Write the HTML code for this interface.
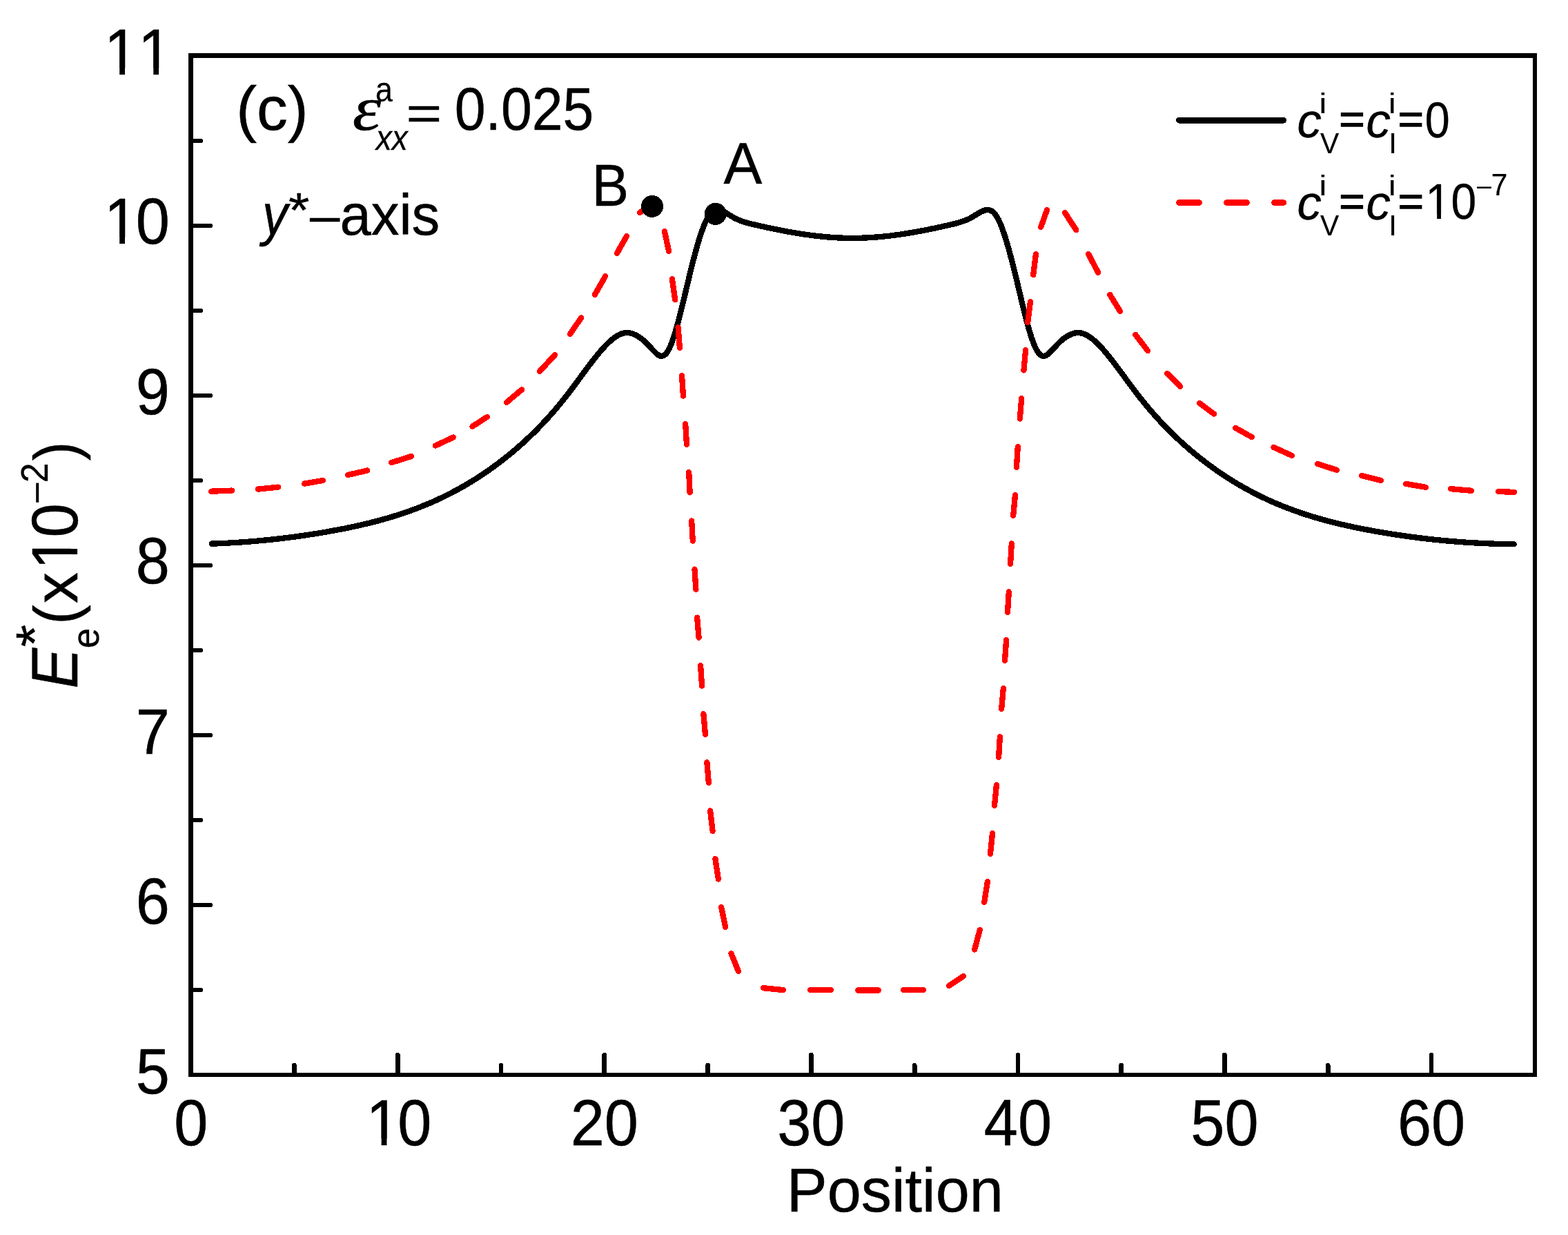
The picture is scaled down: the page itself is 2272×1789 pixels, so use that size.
<!DOCTYPE html>
<html lang="en"><head><meta charset="utf-8"><title>Elastic energy profile along the y*-axis</title>
<style>
html,body{margin:0;padding:0;background:#fff;}
body{width:2272px;height:1789px;overflow:hidden;}
svg{display:block;}
text{font-family:"Liberation Sans",sans-serif;font-size:100px;fill:#000;stroke:#000;stroke-width:0.55px;stroke-linejoin:round;font-kerning:none;font-variant-ligatures:none;}
.it{font-style:italic;}
.se{font-family:"Liberation Serif",serif;}
.eq{stroke-width:2.4px;stroke-linejoin:miter;}
</style></head><body>
<svg width="2272" height="1789" viewBox="0 0 2272 1789">
<defs><clipPath id="k0"><rect x="-10" y="-95" width="135.62" height="85.2"/><rect x="28.89" y="-9.9" width="8.83" height="10.4"/><rect x="55.62" y="-9.9" width="55.6" height="40"/></clipPath><clipPath id="k1"><rect x="-10" y="-95" width="139.36" height="85.2"/><rect x="28.89" y="-9.9" width="8.83" height="10.4"/><rect x="84.50" y="-9.9" width="8.83" height="10.4"/></clipPath><clipPath id="k2"><rect x="-10" y="-95" width="135.62" height="85.2"/><rect x="28.89" y="-9.9" width="8.83" height="10.4"/><rect x="55.62" y="-9.9" width="55.6" height="40"/></clipPath><clipPath id="k3"><rect x="-10" y="-95" width="132.90" height="85.2"/><rect x="25.15" y="-9.9" width="8.83" height="10.4"/><rect x="52.90" y="-9.9" width="55.6" height="40"/></clipPath><clipPath id="k4"><rect x="-10" y="-95" width="136.00" height="85.2"/><rect x="25.15" y="-9.9" width="8.83" height="10.4"/><rect x="56.00" y="-9.9" width="55.6" height="40"/></clipPath></defs>
<rect x="0" y="0" width="2272" height="1789" fill="#fff"/>
<g fill="#000" shape-rendering="crispEdges">
<rect x="273" y="77" width="7" height="1483"/>
<rect x="273" y="77" width="1954" height="7"/>
<rect x="2221" y="77" width="6" height="1483"/>
<rect x="273" y="1554" width="1954" height="6"/>
</g>
<g stroke="#000" stroke-width="6.4" stroke-linecap="round" fill="none" shape-rendering="crispEdges">
<line x1="278" y1="1433.98" x2="290.80" y2="1433.98"/>
<line x1="278" y1="1310.97" x2="304.80" y2="1310.97"/>
<line x1="278" y1="1187.95" x2="290.80" y2="1187.95"/>
<line x1="278" y1="1064.94" x2="304.80" y2="1064.94"/>
<line x1="278" y1="941.92" x2="290.80" y2="941.92"/>
<line x1="278" y1="818.91" x2="304.80" y2="818.91"/>
<line x1="278" y1="695.89" x2="290.80" y2="695.89"/>
<line x1="278" y1="572.88" x2="304.80" y2="572.88"/>
<line x1="278" y1="449.87" x2="290.80" y2="449.87"/>
<line x1="278" y1="326.85" x2="304.80" y2="326.85"/>
<line x1="278" y1="203.84" x2="290.80" y2="203.84"/>
</g><g stroke="#000" stroke-width="6.8" stroke-linecap="round" fill="none" shape-rendering="crispEdges">
<line x1="426.47" y1="1556" x2="426.47" y2="1543.30"/>
<line x1="576.25" y1="1556" x2="576.25" y2="1528.30"/>
<line x1="726.02" y1="1556" x2="726.02" y2="1543.30"/>
<line x1="875.80" y1="1556" x2="875.80" y2="1528.30"/>
<line x1="1025.58" y1="1556" x2="1025.58" y2="1543.30"/>
<line x1="1175.35" y1="1556" x2="1175.35" y2="1528.30"/>
<line x1="1325.12" y1="1556" x2="1325.12" y2="1543.30"/>
<line x1="1474.90" y1="1556" x2="1474.90" y2="1528.30"/>
<line x1="1624.67" y1="1556" x2="1624.67" y2="1543.30"/>
<line x1="1774.45" y1="1556" x2="1774.45" y2="1528.30"/>
<line x1="1924.22" y1="1556" x2="1924.22" y2="1543.30"/>
<line x1="2074.00" y1="1556" x2="2074.00" y2="1528.30"/>
</g>
<text x="0.00" y="0" transform="translate(196.79 1583.80) scale(0.8830 0.9288)">5</text>
<text x="0.00" y="0" transform="translate(196.79 1337.57) scale(0.8830 0.9448)">6</text>
<text x="0.00" y="0" transform="translate(196.79 1091.84) scale(0.8830 0.9288)">7</text>
<text x="0.00" y="0" transform="translate(196.79 845.31) scale(0.8830 0.9448)">8</text>
<text x="0.00" y="0" transform="translate(196.79 600.28) scale(0.8830 0.9448)">9</text>
<text clip-path="url(#k0)" x="3.74 55.62" y="0" transform="translate(147.68 352.85) scale(0.8830 0.9448)">10</text>
<text clip-path="url(#k1)" x="3.74 59.36" y="0" transform="translate(147.68 108.02) scale(0.8830 0.9448)">11</text>
<text x="0.00" y="0" transform="translate(252.15 1658.80) scale(0.8830 0.9448)">0</text>
<text clip-path="url(#k2)" x="3.74 55.62" y="0" transform="translate(527.14 1658.80) scale(0.8830 0.9448)">10</text>
<text x="0.00 55.62" y="0" transform="translate(826.69 1658.80) scale(0.8830 0.9448)">20</text>
<text x="0.00 55.62" y="0" transform="translate(1126.24 1658.80) scale(0.8830 0.9448)">30</text>
<text x="0.00 55.62" y="0" transform="translate(1425.79 1658.80) scale(0.8830 0.9448)">40</text>
<text x="0.00 55.62" y="0" transform="translate(1725.34 1658.80) scale(0.8830 0.9448)">50</text>
<text x="0.00 55.62" y="0" transform="translate(2024.89 1658.80) scale(0.8830 0.9448)">60</text>
<text transform="translate(1139.76 1755.03) scale(0.8831 0.8946)">Position</text>
<g transform="translate(112 1000) rotate(-90)">
<text class="it" transform="translate(2.49 0.00) scale(0.8799 0.9448)">E</text>
<text transform="translate(62.85 -36.18) scale(0.8365 0.7662)">*</text>
<text transform="translate(60.85 30.56) scale(0.5306 0.5494)">e</text>
<text transform="translate(95.54 -0.37) scale(0.8486 0.8920)">(</text>
<text transform="translate(126.09 0.00) scale(0.9016 0.8915)">x</text>
<text clip-path="url(#k3)" x="0.00 52.90" y="0" transform="translate(174.90 0.00) scale(0.8830 0.9448)">10</text>
<text transform="translate(269.27 -39.78) scale(0.5743 0.5330)">−</text>
<text transform="translate(300.69 -43.10) scale(0.5180 0.5585)">2</text>
<text transform="translate(332.72 -0.37) scale(0.8184 0.8920)">)</text>
</g>
<text transform="translate(342.14 188.38) scale(0.8964 0.8898)">(c)</text>
<text class="se it" transform="translate(510.75 188.02) scale(1.0496 0.9003)">ε</text>
<text transform="translate(544.10 146.52) scale(0.4478 0.4910)">a</text>
<text class="it" transform="translate(544.84 217.20) scale(0.4592 0.4959)">xx</text>
<text transform="translate(588.57 188.16) scale(0.8871 0.6765)">=</text>
<text transform="translate(658.75 188.35) scale(0.8057 0.8658)">0.025</text>
<text class="it" transform="translate(380.10 339.87) scale(0.7414 0.8303)">y</text>
<text transform="translate(417.94 328.90) scale(0.7806 0.7093)">*</text>
<text transform="translate(448.90 337.03) scale(0.7774 0.7325)">–</text>
<text transform="translate(492.54 340.49) scale(0.8137 0.8334)">axis</text>
<text transform="translate(1048.44 266.30) scale(0.8370 0.8605)">A</text>
<text transform="translate(857.40 297.50) scale(0.8042 0.8605)">B</text>
<g shape-rendering="crispEdges">
<path d="M306.7 787.6 L308.2 787.6 L309.7 787.5 L311.2 787.5 L312.7 787.4 L314.2 787.4 L315.7 787.3 L317.2 787.2 L318.7 787.2 L320.2 787.1 L321.7 787.0 L323.2 787.0 L324.7 786.9 L326.2 786.8 L327.7 786.7 L329.2 786.7 L330.7 786.6 L332.2 786.5 L333.7 786.4 L335.2 786.3 L336.7 786.2 L338.2 786.1 L339.7 786.1 L341.2 786.0 L342.7 785.9 L344.2 785.8 L345.7 785.7 L347.2 785.6 L348.7 785.5 L350.2 785.4 L351.7 785.3 L353.2 785.2 L354.7 785.0 L356.2 784.9 L357.7 784.8 L359.2 784.7 L360.7 784.6 L362.2 784.5 L363.7 784.3 L365.2 784.2 L366.7 784.1 L368.2 784.0 L369.7 783.8 L371.2 783.7 L372.7 783.6 L374.2 783.4 L375.7 783.3 L377.2 783.2 L378.7 783.0 L380.2 782.9 L381.7 782.7 L383.2 782.6 L384.7 782.5 L386.2 782.3 L387.7 782.2 L389.2 782.0 L390.7 781.8 L392.2 781.7 L393.7 781.5 L395.2 781.4 L396.7 781.2 L398.2 781.0 L399.7 780.9 L401.2 780.7 L402.7 780.5 L404.2 780.4 L405.7 780.2 L407.2 780.0 L408.7 779.8 L410.2 779.7 L411.7 779.5 L413.2 779.3 L414.7 779.1 L416.2 778.9 L417.7 778.7 L419.2 778.5 L420.7 778.4 L422.2 778.2 L423.7 778.0 L425.2 777.8 L426.7 777.6 L428.2 777.4 L429.7 777.2 L431.2 776.9 L432.7 776.7 L434.2 776.5 L435.7 776.3 L437.2 776.1 L438.7 775.9 L440.2 775.7 L441.7 775.5 L443.2 775.2 L444.7 775.0 L446.2 774.8 L447.7 774.6 L449.2 774.3 L450.7 774.1 L452.2 773.9 L453.7 773.6 L455.2 773.4 L456.7 773.1 L458.2 772.9 L459.7 772.7 L461.2 772.4 L462.7 772.2 L464.2 771.9 L465.7 771.7 L467.2 771.4 L468.7 771.2 L470.2 770.9 L471.7 770.7 L473.2 770.4 L474.7 770.1 L476.2 769.9 L477.7 769.6 L479.2 769.3 L480.7 769.1 L482.2 768.8 L483.7 768.5 L485.2 768.2 L486.7 768.0 L488.2 767.7 L489.7 767.4 L491.2 767.1 L492.7 766.8 L494.2 766.5 L495.7 766.3 L497.2 766.0 L498.7 765.7 L500.2 765.4 L501.7 765.1 L503.2 764.8 L504.7 764.5 L506.2 764.1 L507.7 763.8 L509.2 763.5 L510.7 763.2 L512.2 762.9 L513.7 762.6 L515.2 762.2 L516.7 761.9 L518.2 761.6 L519.7 761.2 L521.2 760.9 L522.7 760.6 L524.2 760.2 L525.7 759.9 L527.2 759.5 L528.7 759.2 L530.2 758.8 L531.7 758.5 L533.2 758.1 L534.7 757.7 L536.2 757.4 L537.7 757.0 L539.2 756.6 L540.7 756.2 L542.2 755.8 L543.7 755.5 L545.2 755.1 L546.7 754.7 L548.2 754.3 L549.7 753.9 L551.2 753.5 L552.7 753.1 L554.2 752.6 L555.7 752.2 L557.2 751.8 L558.7 751.4 L560.2 750.9 L561.7 750.5 L563.2 750.1 L564.7 749.6 L566.2 749.2 L567.7 748.7 L569.2 748.3 L570.7 747.8 L572.2 747.3 L573.7 746.9 L575.2 746.4 L576.7 745.9 L578.2 745.4 L579.7 745.0 L581.2 744.5 L582.7 744.0 L584.2 743.5 L585.7 743.0 L587.2 742.4 L588.7 741.9 L590.2 741.4 L591.7 740.9 L593.2 740.3 L594.7 739.8 L596.2 739.3 L597.7 738.7 L599.2 738.2 L600.7 737.6 L602.2 737.0 L603.7 736.5 L605.2 735.9 L606.7 735.3 L608.2 734.7 L609.7 734.1 L611.2 733.5 L612.7 732.9 L614.2 732.3 L615.7 731.7 L617.2 731.1 L618.7 730.5 L620.2 729.8 L621.7 729.2 L623.2 728.6 L624.7 727.9 L626.2 727.3 L627.7 726.6 L629.2 725.9 L630.7 725.3 L632.2 724.6 L633.7 723.9 L635.2 723.2 L636.7 722.5 L638.2 721.8 L639.7 721.1 L641.2 720.4 L642.7 719.6 L644.2 718.9 L645.7 718.2 L647.2 717.4 L648.7 716.7 L650.2 715.9 L651.7 715.2 L653.2 714.4 L654.7 713.6 L656.2 712.8 L657.7 712.0 L659.2 711.3 L660.7 710.4 L662.2 709.6 L663.7 708.8 L665.2 708.0 L666.7 707.2 L668.2 706.3 L669.7 705.5 L671.2 704.6 L672.7 703.8 L674.2 702.9 L675.7 702.0 L677.2 701.1 L678.7 700.2 L680.2 699.3 L681.7 698.4 L683.2 697.5 L684.7 696.6 L686.2 695.7 L687.7 694.7 L689.2 693.8 L690.7 692.8 L692.2 691.9 L693.7 690.9 L695.2 689.9 L696.7 688.9 L698.2 687.9 L699.7 686.9 L701.2 685.9 L702.7 684.9 L704.2 683.9 L705.7 682.9 L707.2 681.8 L708.7 680.8 L710.2 679.7 L711.7 678.6 L713.2 677.6 L714.7 676.5 L716.2 675.4 L717.7 674.3 L719.2 673.2 L720.7 672.1 L722.2 670.9 L723.7 669.8 L725.2 668.6 L726.7 667.5 L728.2 666.3 L729.7 665.2 L731.2 664.0 L732.7 662.8 L734.2 661.6 L735.7 660.4 L737.2 659.2 L738.7 657.9 L740.2 656.7 L741.7 655.5 L743.2 654.2 L744.7 652.9 L746.2 651.7 L747.7 650.4 L749.2 649.1 L750.7 647.8 L752.2 646.5 L753.7 645.2 L755.2 643.8 L756.7 642.5 L758.2 641.1 L759.7 639.8 L761.2 638.4 L762.7 637.0 L764.2 635.6 L765.7 634.2 L767.2 632.8 L768.7 631.3 L770.2 629.9 L771.7 628.4 L773.2 627.0 L774.7 625.5 L776.2 624.0 L777.7 622.5 L779.2 621.0 L780.7 619.4 L782.2 617.9 L783.7 616.3 L785.2 614.8 L786.7 613.2 L788.2 611.6 L789.7 610.0 L791.2 608.4 L792.7 606.7 L794.2 605.1 L795.7 603.4 L797.2 601.7 L798.7 600.1 L800.2 598.4 L801.7 596.6 L803.2 594.9 L804.7 593.2 L806.2 591.4 L807.7 589.6 L809.2 587.8 L810.7 586.0 L812.2 584.2 L813.7 582.4 L815.2 580.5 L816.7 578.6 L818.2 576.7 L819.7 574.8 L821.2 572.9 L822.7 571.0 L824.2 569.0 L825.7 567.1 L827.2 565.1 L828.7 563.1 L830.2 561.1 L831.7 559.1 L833.2 557.1 L834.7 555.0 L836.2 553.0 L837.7 550.9 L839.2 548.9 L840.7 546.9 L842.2 544.8 L843.7 542.8 L845.2 540.7 L846.7 538.7 L848.2 536.7 L849.7 534.6 L851.2 532.6 L852.7 530.6 L854.2 528.6 L855.7 526.7 L857.2 524.7 L858.7 522.8 L860.2 520.9 L861.7 519.0 L863.2 517.1 L864.7 515.2 L866.2 513.4 L867.7 511.6 L869.2 509.8 L870.7 508.1 L872.2 506.4 L873.7 504.7 L875.2 503.0 L876.7 501.4 L878.2 499.8 L879.7 498.3 L881.2 496.8 L882.7 495.4 L884.2 494.1 L885.7 492.7 L887.2 491.5 L888.7 490.3 L890.2 489.2 L891.7 488.1 L893.2 487.1 L894.7 486.2 L896.2 485.4 L897.7 484.7 L899.2 484.0 L900.7 483.4 L902.2 483.0 L903.7 482.6 L905.2 482.3 L906.7 482.1 L908.2 482.0 L909.7 482.1 L911.2 482.2 L912.7 482.5 L914.2 482.8 L915.7 483.2 L917.2 483.7 L918.7 484.3 L920.2 485.0 L921.7 485.7 L923.2 486.5 L924.7 487.4 L926.2 488.3 L927.7 489.4 L929.2 490.5 L930.7 491.6 L932.2 492.9 L933.7 494.2 L935.2 495.7 L936.7 497.1 L938.2 498.7 L939.7 500.2 L941.2 501.8 L942.7 503.5 L944.2 505.1 L945.7 506.7 L947.2 508.3 L948.7 509.8 L950.2 511.3 L951.7 512.6 L953.2 513.8 L954.7 514.7 L956.2 515.4 L957.7 515.8 L959.2 515.8 L960.7 515.4 L962.2 514.7 L963.7 513.6 L965.2 512.1 L966.7 510.1 L968.2 507.7 L969.7 504.9 L971.2 501.7 L972.7 498.1 L974.2 494.1 L975.7 489.8 L977.2 485.2 L978.7 480.3 L980.2 475.2 L981.7 469.8 L983.2 464.2 L984.7 458.5 L986.2 452.6 L987.7 446.5 L989.2 440.4 L990.7 434.1 L992.2 427.9 L993.7 421.6 L995.2 415.3 L996.7 409.0 L998.2 402.8 L999.7 396.6 L1001.2 390.5 L1002.7 384.5 L1004.2 378.6 L1005.7 372.9 L1007.2 367.3 L1008.7 361.8 L1010.2 356.5 L1011.7 351.3 L1013.2 346.4 L1014.7 341.7 L1016.2 337.2 L1017.7 332.9 L1019.2 328.9 L1020.7 325.2 L1022.2 321.7 L1023.7 318.5 L1025.2 315.6 L1026.7 313.1 L1028.2 310.9 L1029.7 309.0 L1031.2 307.5 L1032.7 306.3 L1034.2 305.4 L1035.7 304.8 L1037.2 304.4 L1038.7 304.2 L1040.2 304.2 L1041.7 304.3 L1043.2 304.6 L1044.7 305.0 L1046.2 305.5 L1047.7 306.2 L1049.2 306.9 L1050.7 307.7 L1052.2 308.5 L1053.7 309.4 L1055.2 310.3 L1056.7 311.3 L1058.2 312.2 L1059.7 313.1 L1061.2 314.0 L1062.7 314.9 L1064.2 315.7 L1065.7 316.5 L1067.2 317.2 L1068.7 317.9 L1070.2 318.6 L1071.7 319.2 L1073.2 319.8 L1074.7 320.3 L1076.2 320.9 L1077.7 321.4 L1079.2 321.8 L1080.7 322.3 L1082.2 322.7 L1083.7 323.1 L1085.2 323.5 L1086.7 323.9 L1088.2 324.3 L1089.7 324.6 L1091.2 325.0 L1092.7 325.3 L1094.2 325.7 L1095.7 326.0 L1097.2 326.4 L1098.7 326.7 L1100.2 327.0 L1101.7 327.4 L1103.2 327.7 L1104.7 328.0 L1106.2 328.4 L1107.7 328.7 L1109.2 329.0 L1110.7 329.4 L1112.2 329.7 L1113.7 330.0 L1115.2 330.3 L1116.7 330.7 L1118.2 331.0 L1119.7 331.3 L1121.2 331.6 L1122.7 331.9 L1124.2 332.2 L1125.7 332.5 L1127.2 332.8 L1128.7 333.1 L1130.2 333.4 L1131.7 333.7 L1133.2 334.0 L1134.7 334.3 L1136.2 334.6 L1137.7 334.8 L1139.2 335.1 L1140.7 335.4 L1142.2 335.7 L1143.7 335.9 L1145.2 336.2 L1146.7 336.5 L1148.2 336.7 L1149.7 337.0 L1151.2 337.2 L1152.7 337.5 L1154.2 337.7 L1155.7 338.0 L1157.2 338.2 L1158.7 338.5 L1160.2 338.7 L1161.7 338.9 L1163.2 339.1 L1164.7 339.4 L1166.2 339.6 L1167.7 339.8 L1169.2 340.0 L1170.7 340.2 L1172.2 340.4 L1173.7 340.6 L1175.2 340.8 L1176.7 341.0 L1178.2 341.2 L1179.7 341.4 L1181.2 341.6 L1182.7 341.7 L1184.2 341.9 L1185.7 342.1 L1187.2 342.2 L1188.7 342.4 L1190.2 342.5 L1191.7 342.7 L1193.2 342.8 L1194.7 343.0 L1196.2 343.1 L1197.7 343.3 L1199.2 343.4 L1200.7 343.5 L1202.2 343.6 L1203.7 343.7 L1205.2 343.8 L1206.7 343.9 L1208.2 344.0 L1209.7 344.1 L1211.2 344.2 L1212.7 344.3 L1214.2 344.4 L1215.7 344.5 L1217.2 344.5 L1218.7 344.6 L1220.2 344.6 L1221.7 344.7 L1223.2 344.7 L1224.7 344.8 L1226.2 344.8 L1227.7 344.8 L1229.2 344.9 L1230.7 344.9 L1232.2 344.9 L1233.7 344.9 L1235.2 344.9 L1236.7 344.9 L1238.2 344.9 L1239.7 344.9 L1241.2 344.9 L1242.7 344.8 L1244.2 344.8 L1245.7 344.8 L1247.2 344.7 L1248.7 344.7 L1250.2 344.6 L1251.7 344.6 L1253.2 344.5 L1254.7 344.5 L1256.2 344.4 L1257.7 344.3 L1259.2 344.2 L1260.7 344.1 L1262.2 344.1 L1263.7 344.0 L1265.2 343.9 L1266.7 343.7 L1268.2 343.6 L1269.7 343.5 L1271.2 343.4 L1272.7 343.3 L1274.2 343.1 L1275.7 343.0 L1277.2 342.9 L1278.7 342.7 L1280.2 342.6 L1281.7 342.4 L1283.2 342.3 L1284.7 342.1 L1286.2 341.9 L1287.7 341.8 L1289.2 341.6 L1290.7 341.4 L1292.2 341.2 L1293.7 341.0 L1295.2 340.8 L1296.7 340.6 L1298.2 340.5 L1299.7 340.2 L1301.2 340.0 L1302.7 339.8 L1304.2 339.6 L1305.7 339.4 L1307.2 339.2 L1308.7 338.9 L1310.2 338.7 L1311.7 338.5 L1313.2 338.3 L1314.7 338.0 L1316.2 337.8 L1317.7 337.5 L1319.2 337.3 L1320.7 337.0 L1322.2 336.8 L1323.7 336.5 L1325.2 336.2 L1326.7 336.0 L1328.2 335.7 L1329.7 335.4 L1331.2 335.2 L1332.7 334.9 L1334.2 334.6 L1335.7 334.3 L1337.2 334.0 L1338.7 333.7 L1340.2 333.4 L1341.7 333.1 L1343.2 332.9 L1344.7 332.6 L1346.2 332.2 L1347.7 331.9 L1349.2 331.6 L1350.7 331.3 L1352.2 331.0 L1353.7 330.7 L1355.2 330.4 L1356.7 330.1 L1358.2 329.7 L1359.7 329.4 L1361.2 329.1 L1362.7 328.8 L1364.2 328.4 L1365.7 328.1 L1367.2 327.8 L1368.7 327.4 L1370.2 327.1 L1371.7 326.7 L1373.2 326.4 L1374.7 326.1 L1376.2 325.7 L1377.7 325.4 L1379.2 325.0 L1380.7 324.7 L1382.2 324.3 L1383.7 323.9 L1385.2 323.6 L1386.7 323.2 L1388.2 322.8 L1389.7 322.3 L1391.2 321.9 L1392.7 321.4 L1394.2 320.9 L1395.7 320.4 L1397.2 319.9 L1398.7 319.3 L1400.2 318.7 L1401.7 318.0 L1403.2 317.3 L1404.7 316.6 L1406.2 315.8 L1407.7 315.0 L1409.2 314.2 L1410.7 313.3 L1412.2 312.3 L1413.7 311.4 L1415.2 310.4 L1416.7 309.5 L1418.2 308.6 L1419.7 307.8 L1421.2 307.0 L1422.7 306.3 L1424.2 305.6 L1425.7 305.1 L1427.2 304.6 L1428.7 304.3 L1430.2 304.2 L1431.7 304.2 L1433.2 304.3 L1434.7 304.7 L1436.2 305.3 L1437.7 306.2 L1439.2 307.3 L1440.7 308.8 L1442.2 310.6 L1443.7 312.8 L1445.2 315.3 L1446.7 318.1 L1448.2 321.2 L1449.7 324.6 L1451.2 328.4 L1452.7 332.3 L1454.2 336.6 L1455.7 341.0 L1457.2 345.7 L1458.7 350.6 L1460.2 355.7 L1461.7 361.0 L1463.2 366.5 L1464.7 372.1 L1466.2 377.8 L1467.7 383.7 L1469.2 389.7 L1470.7 395.7 L1472.2 401.9 L1473.7 408.1 L1475.2 414.4 L1476.7 420.7 L1478.2 427.0 L1479.7 433.3 L1481.2 439.5 L1482.7 445.7 L1484.2 451.7 L1485.7 457.7 L1487.2 463.4 L1488.7 469.0 L1490.2 474.4 L1491.7 479.6 L1493.2 484.5 L1494.7 489.2 L1496.2 493.5 L1497.7 497.5 L1499.2 501.2 L1500.7 504.4 L1502.2 507.3 L1503.7 509.8 L1505.2 511.8 L1506.7 513.4 L1508.2 514.6 L1509.7 515.4 L1511.2 515.8 L1512.7 515.8 L1514.2 515.5 L1515.7 514.9 L1517.2 513.9 L1518.7 512.8 L1520.2 511.5 L1521.7 510.1 L1523.2 508.5 L1524.7 506.9 L1526.2 505.3 L1527.7 503.7 L1529.2 502.1 L1530.7 500.5 L1532.2 498.9 L1533.7 497.4 L1535.2 495.9 L1536.7 494.4 L1538.2 493.1 L1539.7 491.8 L1541.2 490.6 L1542.7 489.5 L1544.2 488.5 L1545.7 487.5 L1547.2 486.7 L1548.7 485.8 L1550.2 485.1 L1551.7 484.4 L1553.2 483.8 L1554.7 483.3 L1556.2 482.8 L1557.7 482.5 L1559.2 482.2 L1560.7 482.1 L1562.2 482.0 L1563.7 482.1 L1565.2 482.3 L1566.7 482.5 L1568.2 482.9 L1569.7 483.4 L1571.2 483.9 L1572.7 484.6 L1574.2 485.3 L1575.7 486.1 L1577.2 487.0 L1578.7 488.0 L1580.2 489.0 L1581.7 490.1 L1583.2 491.3 L1584.7 492.6 L1586.2 493.9 L1587.7 495.2 L1589.2 496.6 L1590.7 498.1 L1592.2 499.6 L1593.7 501.2 L1595.2 502.8 L1596.7 504.4 L1598.2 506.1 L1599.7 507.8 L1601.2 509.6 L1602.7 511.3 L1604.2 513.1 L1605.7 515.0 L1607.2 516.8 L1608.7 518.7 L1610.2 520.6 L1611.7 522.5 L1613.2 524.4 L1614.7 526.4 L1616.2 528.4 L1617.7 530.4 L1619.2 532.4 L1620.7 534.4 L1622.2 536.4 L1623.7 538.4 L1625.2 540.4 L1626.7 542.5 L1628.2 544.5 L1629.7 546.6 L1631.2 548.6 L1632.7 550.7 L1634.2 552.7 L1635.7 554.7 L1637.2 556.8 L1638.7 558.8 L1640.2 560.8 L1641.7 562.8 L1643.2 564.8 L1644.7 566.8 L1646.2 568.8 L1647.7 570.7 L1649.2 572.7 L1650.7 574.6 L1652.2 576.5 L1653.7 578.4 L1655.2 580.2 L1656.7 582.1 L1658.2 583.9 L1659.7 585.8 L1661.2 587.6 L1662.7 589.4 L1664.2 591.1 L1665.7 592.9 L1667.2 594.7 L1668.7 596.4 L1670.2 598.1 L1671.7 599.8 L1673.2 601.5 L1674.7 603.2 L1676.2 604.9 L1677.7 606.5 L1679.2 608.1 L1680.7 609.8 L1682.2 611.4 L1683.7 613.0 L1685.2 614.6 L1686.7 616.1 L1688.2 617.7 L1689.7 619.2 L1691.2 620.8 L1692.7 622.3 L1694.2 623.8 L1695.7 625.3 L1697.2 626.8 L1698.7 628.2 L1700.2 629.7 L1701.7 631.1 L1703.2 632.6 L1704.7 634.0 L1706.2 635.4 L1707.7 636.8 L1709.2 638.2 L1710.7 639.6 L1712.2 640.9 L1713.7 642.3 L1715.2 643.6 L1716.7 645.0 L1718.2 646.3 L1719.7 647.6 L1721.2 648.9 L1722.7 650.2 L1724.2 651.5 L1725.7 652.8 L1727.2 654.0 L1728.7 655.3 L1730.2 656.5 L1731.7 657.8 L1733.2 659.0 L1734.7 660.2 L1736.2 661.4 L1737.7 662.6 L1739.2 663.8 L1740.7 665.0 L1742.2 666.2 L1743.7 667.3 L1745.2 668.5 L1746.7 669.6 L1748.2 670.8 L1749.7 671.9 L1751.2 673.0 L1752.7 674.1 L1754.2 675.2 L1755.7 676.3 L1757.2 677.4 L1758.7 678.5 L1760.2 679.6 L1761.7 680.6 L1763.2 681.7 L1764.7 682.7 L1766.2 683.7 L1767.7 684.8 L1769.2 685.8 L1770.7 686.8 L1772.2 687.8 L1773.7 688.8 L1775.2 689.8 L1776.7 690.8 L1778.2 691.7 L1779.7 692.7 L1781.2 693.6 L1782.7 694.6 L1784.2 695.5 L1785.7 696.5 L1787.2 697.4 L1788.7 698.3 L1790.2 699.2 L1791.7 700.1 L1793.2 701.0 L1794.7 701.9 L1796.2 702.8 L1797.7 703.6 L1799.2 704.5 L1800.7 705.4 L1802.2 706.2 L1803.7 707.0 L1805.2 707.9 L1806.7 708.7 L1808.2 709.5 L1809.7 710.3 L1811.2 711.1 L1812.7 711.9 L1814.2 712.7 L1815.7 713.5 L1817.2 714.3 L1818.7 715.1 L1820.2 715.8 L1821.7 716.6 L1823.2 717.3 L1824.7 718.1 L1826.2 718.8 L1827.7 719.5 L1829.2 720.3 L1830.7 721.0 L1832.2 721.7 L1833.7 722.4 L1835.2 723.1 L1836.7 723.8 L1838.2 724.5 L1839.7 725.2 L1841.2 725.8 L1842.7 726.5 L1844.2 727.2 L1845.7 727.8 L1847.2 728.5 L1848.7 729.1 L1850.2 729.8 L1851.7 730.4 L1853.2 731.0 L1854.7 731.6 L1856.2 732.2 L1857.7 732.9 L1859.2 733.5 L1860.7 734.1 L1862.2 734.6 L1863.7 735.2 L1865.2 735.8 L1866.7 736.4 L1868.2 737.0 L1869.7 737.5 L1871.2 738.1 L1872.7 738.6 L1874.2 739.2 L1875.7 739.7 L1877.2 740.3 L1878.7 740.8 L1880.2 741.3 L1881.7 741.8 L1883.2 742.4 L1884.7 742.9 L1886.2 743.4 L1887.7 743.9 L1889.2 744.4 L1890.7 744.9 L1892.2 745.4 L1893.7 745.9 L1895.2 746.3 L1896.7 746.8 L1898.2 747.3 L1899.7 747.7 L1901.2 748.2 L1902.7 748.7 L1904.2 749.1 L1905.7 749.6 L1907.2 750.0 L1908.7 750.4 L1910.2 750.9 L1911.7 751.3 L1913.2 751.7 L1914.7 752.2 L1916.2 752.6 L1917.7 753.0 L1919.2 753.4 L1920.7 753.8 L1922.2 754.2 L1923.7 754.6 L1925.2 755.0 L1926.7 755.4 L1928.2 755.8 L1929.7 756.2 L1931.2 756.6 L1932.7 756.9 L1934.2 757.3 L1935.7 757.7 L1937.2 758.0 L1938.7 758.4 L1940.2 758.8 L1941.7 759.1 L1943.2 759.5 L1944.7 759.8 L1946.2 760.2 L1947.7 760.5 L1949.2 760.9 L1950.7 761.2 L1952.2 761.5 L1953.7 761.9 L1955.2 762.2 L1956.7 762.5 L1958.2 762.8 L1959.7 763.2 L1961.2 763.5 L1962.7 763.8 L1964.2 764.1 L1965.7 764.4 L1967.2 764.7 L1968.7 765.0 L1970.2 765.3 L1971.7 765.6 L1973.2 765.9 L1974.7 766.2 L1976.2 766.5 L1977.7 766.8 L1979.2 767.1 L1980.7 767.4 L1982.2 767.6 L1983.7 767.9 L1985.2 768.2 L1986.7 768.5 L1988.2 768.8 L1989.7 769.0 L1991.2 769.3 L1992.7 769.6 L1994.2 769.8 L1995.7 770.1 L1997.2 770.4 L1998.7 770.6 L2000.2 770.9 L2001.7 771.1 L2003.2 771.4 L2004.7 771.6 L2006.2 771.9 L2007.7 772.1 L2009.2 772.4 L2010.7 772.6 L2012.2 772.9 L2013.7 773.1 L2015.2 773.4 L2016.7 773.6 L2018.2 773.8 L2019.7 774.1 L2021.2 774.3 L2022.7 774.5 L2024.2 774.7 L2025.7 775.0 L2027.2 775.2 L2028.7 775.4 L2030.2 775.6 L2031.7 775.9 L2033.2 776.1 L2034.7 776.3 L2036.2 776.5 L2037.7 776.7 L2039.2 776.9 L2040.7 777.1 L2042.2 777.3 L2043.7 777.5 L2045.2 777.7 L2046.7 777.9 L2048.2 778.1 L2049.7 778.3 L2051.2 778.5 L2052.7 778.7 L2054.2 778.9 L2055.7 779.1 L2057.2 779.3 L2058.7 779.5 L2060.2 779.6 L2061.7 779.8 L2063.2 780.0 L2064.7 780.2 L2066.2 780.3 L2067.7 780.5 L2069.2 780.7 L2070.7 780.9 L2072.2 781.0 L2073.7 781.2 L2075.2 781.3 L2076.7 781.5 L2078.2 781.7 L2079.7 781.8 L2081.2 782.0 L2082.7 782.1 L2084.2 782.3 L2085.7 782.4 L2087.2 782.6 L2088.7 782.7 L2090.2 782.9 L2091.7 783.0 L2093.2 783.2 L2094.7 783.3 L2096.2 783.4 L2097.7 783.6 L2099.2 783.7 L2100.7 783.8 L2102.2 784.0 L2103.7 784.1 L2105.2 784.2 L2106.7 784.3 L2108.2 784.4 L2109.7 784.6 L2111.2 784.7 L2112.7 784.8 L2114.2 784.9 L2115.7 785.0 L2117.2 785.1 L2118.7 785.2 L2120.2 785.4 L2121.7 785.5 L2123.2 785.6 L2124.7 785.7 L2126.2 785.8 L2127.7 785.9 L2129.2 786.0 L2130.7 786.0 L2132.2 786.1 L2133.7 786.2 L2135.2 786.3 L2136.7 786.4 L2138.2 786.5 L2139.7 786.6 L2141.2 786.6 L2142.7 786.7 L2144.2 786.8 L2145.7 786.9 L2147.2 786.9 L2148.7 787.0 L2150.2 787.1 L2151.7 787.2 L2153.2 787.2 L2154.7 787.3 L2156.2 787.3 L2157.7 787.4 L2159.2 787.5 L2160.7 787.5 L2162.2 787.6 L2163.7 787.6 L2165.2 787.7 L2166.7 787.7 L2168.2 787.8 L2169.7 787.8 L2171.2 787.9 L2172.7 787.9 L2174.2 787.9 L2175.7 788.0 L2177.2 788.0 L2178.7 788.1 L2180.2 788.1 L2181.7 788.1 L2183.2 788.1 L2184.7 788.2 L2186.2 788.2 L2187.7 788.2 L2189.2 788.2 L2190.7 788.3 L2192.2 788.3 L2193.7 788.3 L2193.8 788.3" fill="none" stroke="#000" stroke-width="8.3" stroke-linecap="round" stroke-linejoin="round"/>
<path d="M306.1 711.7L336.1 710.6M374.0 708.6L403.0 705.6M441.1 700.6L468.1 696.0M504.0 688.0L532.1 681.6M567.0 670.2L596.1 661.0M631.0 645.5L656.9 633.5M684.4 617.8L706.0 603.9M734.1 582.8L756.1 564.4M781.9 537.9L804.0 514.2M825.9 484.0L842.1 460.3M861.9 426.9L877.1 400.1M893.9 367.0L908.1 342.0M927.0 307.9L944.9 295.6M962.9 335.0L969.1 364.0M973.9 404.1L978.2 434.1M982.6 474.2L984.9 503.8M988.0 544.0L990.0 573.6M993.2 614.1L995.0 644.0M998.2 684.0L999.6 713.4M1002.2 754.5L1003.8 783.5M1006.5 824.5L1008.4 853.8M1010.1 894.6L1012.6 923.6M1015.1 964.1L1017.1 993.6M1019.4 1034.2L1021.9 1063.8M1024.4 1104.4L1026.8 1133.8M1029.2 1174.5L1032.6 1203.9M1036.4 1244.1L1040.9 1273.5M1045.2 1314.2L1051.1 1342.8M1059.5 1381.2L1069.9 1406.8M1106.1 1431.2L1135.0 1434.1M1174.2 1434.1L1203.8 1434.1M1243.1 1434.5L1272.8 1434.5M1309.2 1434.1L1337.8 1434.1M1375.1 1427.9L1395.8 1414.2M1412.2 1375.5L1419.8 1347.0M1426.2 1306.8L1430.9 1277.0M1435.0 1236.8L1438.0 1207.2M1441.0 1166.9L1443.9 1137.1M1447.1 1096.8L1448.9 1067.4M1451.2 1026.8L1453.8 997.2M1456.0 956.8L1458.1 927.2M1460.0 887.0L1461.8 857.4M1464.1 816.9L1465.8 787.4M1468.2 746.8L1471.0 717.2M1472.9 676.8L1474.8 647.2M1477.8 606.6L1480.2 577.1M1483.4 536.5L1486.1 506.9M1489.2 467.0L1492.9 437.2M1497.2 398.2L1500.9 368.0M1508.2 329.0L1517.1 304.0M1543.0 308.1L1559.3 333.1M1577.1 368.0L1591.2 394.9M1608.2 426.8L1623.1 451.1M1645.2 484.8L1663.1 508.2M1691.2 541.0L1710.1 559.9M1738.2 584.0L1759.0 599.6M1790.1 619.9L1814.0 633.2M1845.4 647.9L1872.1 660.0M1909.1 671.9L1937.0 680.9M1973.1 689.1L2000.9 696.0M2037.2 700.9L2065.9 705.8M2102.2 708.2L2132.0 710.8M2171.1 712.0L2194.2 712.9" fill="none" stroke="#f00" stroke-width="8.3" stroke-linecap="round"/>
<circle cx="944.95" cy="298.9" r="16" fill="#000"/>
<circle cx="1036.7" cy="309.9" r="16" fill="#000"/>
</g>
<g shape-rendering="crispEdges">
<line x1="1708.3" y1="174.3" x2="1859.8" y2="174.3" stroke="#000" stroke-width="8.6" stroke-linecap="round"/>
<path d="M1708.2 293.5H1737.7M1777.2 293.5H1806.7M1846.3 293.5H1859.9" fill="none" stroke="#f00" stroke-width="8.4" stroke-linecap="round"/>
</g>
<text class="it" transform="translate(1879.59 198.71) scale(0.7061 0.7046)">c</text>
<text transform="translate(1911.78 163.80) scale(0.4665 0.4099)">i</text>
<text transform="translate(1912.92 221.90) scale(0.4087 0.4302)">V</text>
<text class="eq" transform="translate(1940.50 193.16) scale(0.6340 0.5927)">=</text>
<text class="it" transform="translate(1979.48 198.71) scale(0.7082 0.7046)">c</text>
<text transform="translate(2011.88 163.80) scale(0.4665 0.4099)">i</text>
<text transform="translate(2012.24 221.90) scale(0.4182 0.4302)">I</text>
<text class="eq" transform="translate(2025.70 193.16) scale(0.6340 0.5927)">=</text>
<text transform="translate(2064.77 198.69) scale(0.6464 0.7288)">0</text>
<text class="it" transform="translate(1879.59 317.71) scale(0.7061 0.7046)">c</text>
<text transform="translate(1911.78 282.80) scale(0.4665 0.4099)">i</text>
<text transform="translate(1912.92 340.90) scale(0.4087 0.4302)">V</text>
<text class="eq" transform="translate(1940.50 312.16) scale(0.6340 0.5927)">=</text>
<text class="it" transform="translate(1979.48 317.71) scale(0.7082 0.7046)">c</text>
<text transform="translate(2011.88 282.80) scale(0.4665 0.4099)">i</text>
<text transform="translate(2012.24 340.90) scale(0.4182 0.4302)">I</text>
<text class="eq" transform="translate(2025.70 312.16) scale(0.6340 0.5927)">=</text>
<text clip-path="url(#k4)" x="0.00 56.00" y="0" transform="translate(2065.57 317.00) scale(0.6600 0.7253)">10</text>
<text transform="translate(2137.99 282.79) scale(0.4281 0.3367)">−</text>
<text transform="translate(2160.72 283.10) scale(0.4246 0.4361)">7</text>
</svg>
</body></html>
